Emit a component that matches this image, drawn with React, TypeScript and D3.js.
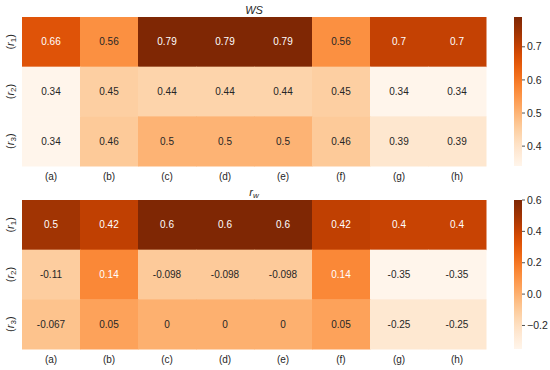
import React from "react";
import * as d3 from "d3";

// columns and rows of both heatmaps
const cols = ["(a)", "(b)", "(c)", "(d)", "(e)", "(f)", "(g)", "(h)"];
const rows = ["1", "2", "3"];

// WS values, one array per row
const wsR1 = [0.66, 0.56, 0.79, 0.79, 0.79, 0.56, 0.7, 0.7];
const wsR2 = [0.34, 0.45, 0.44, 0.44, 0.44, 0.45, 0.34, 0.34];
const wsR3 = [0.34, 0.46, 0.5, 0.5, 0.5, 0.46, 0.39, 0.39];
const wsTicks = [0.4, 0.5, 0.6, 0.7];

// r_w values
const rwR1 = [0.5, 0.42, 0.6, 0.6, 0.6, 0.42, 0.4, 0.4];
const rwR2 = [-0.11, 0.14, -0.098, -0.098, -0.098, 0.14, -0.35, -0.35];
const rwR3 = [-0.067, 0.05, 0, 0, 0, 0.05, -0.25, -0.25];
const rwTicks = [-0.2, 0.0, 0.2, 0.4, 0.6];

const FONT = "'Liberation Sans', Arial, sans-serif";

// seaborn picks the annotation colour from the cell luminance
function textColor(c: string) {
  const rgb = d3.rgb(c);
  const lin = (v: number) => {
    v = v / 255;
    return v <= 0.03928 ? v / 12.92 : Math.pow((v + 0.055) / 1.055, 2.4);
  };
  const lum = 0.2126 * lin(rgb.r) + 0.7152 * lin(rgb.g) + 0.0722 * lin(rgb.b);
  return lum > 0.408 ? "#262626" : "#ffffff";
}

function Heatmap(props: {
  top: number;
  height: number;
  data: number[][];
  ticks: number[];
  tickFmt: (v: number) => string;
  title: React.ReactNode;
  titleY: number;
}) {
  const { top, height, data, ticks, tickFmt, title, titleY } = props;
  const left = 22, right = 486;
  const x = d3.scaleBand().domain(cols).range([left, right]);
  const y = d3.scaleBand().domain(rows).range([top, top + height]);
  const all = data.flat();
  const ext = d3.extent(all) as [number, number];
  const color = d3.scaleSequential(d3.interpolateOranges).domain(ext);
  const cbX = 514, cbW = 8;
  const cbY = d3.scaleLinear().domain(ext).range([top + height, top]);
  const gradId = "grad" + top;
  const stops = d3.range(0, 1.0001, 0.05);

  return (
    <g fontFamily={FONT}>
      <text x={(left + right) / 2} y={titleY} textAnchor="middle" fontSize={11} fill="#262626">
        {title}
      </text>
      {data.map((row, ri) =>
        row.map((v, ci) => {
          const fill = color(v);
          return (
            <g key={ri + "-" + ci}>
              <rect
                x={x(cols[ci])!}
                y={y(rows[ri])!}
                width={x.bandwidth() + 0.5}
                height={y.bandwidth() + 0.5}
                fill={fill}
              />
              <text
                x={x(cols[ci])! + x.bandwidth() / 2}
                y={y(rows[ri])! + y.bandwidth() / 2}
                dy="0.35em"
                textAnchor="middle"
                fontSize={10}
                fill={textColor(fill)}
              >
                {String(v)}
              </text>
            </g>
          );
        })
      )}
      {cols.map((c) => (
        <text
          key={c}
          x={x(c)! + x.bandwidth() / 2}
          y={top + height + 14}
          textAnchor="middle"
          fontSize={10}
          fill="#262626"
        >
          {c}
        </text>
      ))}
      {rows.map((r) => {
        const cy = y(r)! + y.bandwidth() / 2;
        return (
          <text
            key={r}
            transform={`translate(14,${cy}) rotate(-90)`}
            textAnchor="middle"
            fontSize={11}
            fill="#262626"
          >
            (<tspan fontStyle="italic">r</tspan>
            <tspan fontSize={8} dy={2}>{r}</tspan>
            <tspan dy={-2}>)</tspan>
          </text>
        );
      })}
      <defs>
        <linearGradient id={gradId} x1="0" y1="1" x2="0" y2="0">
          {stops.map((s) => (
            <stop key={s} offset={s} stopColor={d3.interpolateOranges(s)} />
          ))}
        </linearGradient>
      </defs>
      <rect x={cbX} y={top} width={cbW} height={height} fill={`url(#${gradId})`} />
      {ticks.map((t) => (
        <g key={t} transform={`translate(${cbX + cbW},${cbY(t)})`}>
          <line x1={0} x2={3} stroke="#262626" strokeWidth={0.8} />
          <text x={5} dy="0.35em" fontSize={10.5} fill="#262626">
            {tickFmt(t)}
          </text>
        </g>
      ))}
    </g>
  );
}

export default function App() {
  const fmt1 = (v: number) => d3.format(".1f")(v).replace("-", "\u2212");
  return (
    <svg width={550} height={370} style={{ position: "absolute", left: 0, top: 0, background: "#fff" }}>
      <Heatmap
        top={17}
        height={149}
        data={[wsR1, wsR2, wsR3]}
        ticks={wsTicks}
        tickFmt={fmt1}
        titleY={14}
        title={<tspan fontStyle="italic">WS</tspan>}
      />
      <Heatmap
        top={200}
        height={149}
        data={[rwR1, rwR2, rwR3]}
        ticks={rwTicks}
        tickFmt={fmt1}
        titleY={196}
        title={
          <>
            <tspan fontStyle="italic">r</tspan>
            <tspan fontStyle="italic" fontSize={8} dy={2}>w</tspan>
          </>
        }
      />
    </svg>
  );
}
